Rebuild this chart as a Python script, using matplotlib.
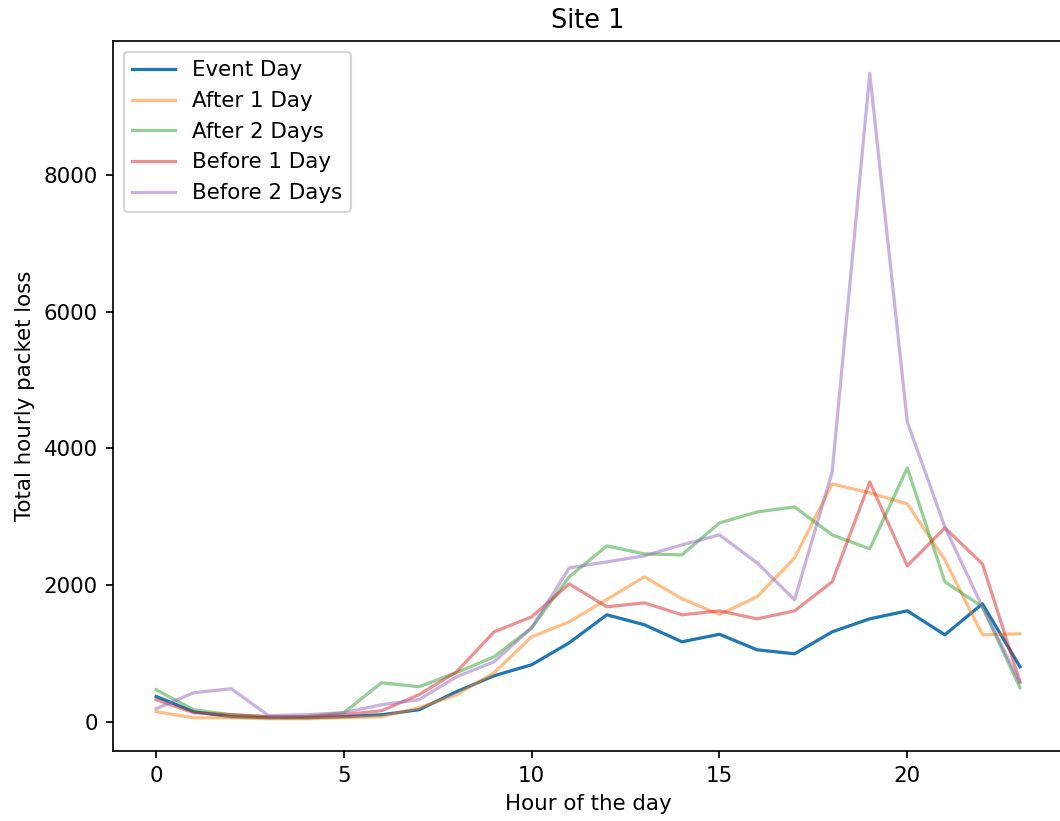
import matplotlib
matplotlib.use("Agg")
import matplotlib.pyplot as plt

hours = list(range(24))

event_day = [370, 146, 73, 58, 58, 73, 102, 175, 440, 673, 834, 1155, 1565, 1419,
             1170, 1280, 1053, 994, 1316, 1506, 1623, 1272, 1726, 804]
after_1 = [146, 58, 58, 44, 44, 58, 73, 205, 395, 717, 1243, 1462, 1790, 2121,
           1800, 1570, 1828, 2398, 3481, 3350, 3188, 2370, 1272, 1287]
after_2 = [468, 175, 102, 73, 73, 132, 570, 512, 717, 951, 1375, 2121, 2574, 2457,
           2442, 2910, 3071, 3144, 2735, 2530, 3715, 2048, 1682, 497]
before_1 = [322, 132, 102, 73, 73, 102, 160, 395, 731, 1316, 1536, 2018, 1682, 1740,
            1565, 1623, 1506, 1623, 2048, 3510, 2282, 2837, 2311, 585]
before_2 = [190, 424, 483, 88, 102, 132, 249, 322, 658, 878, 1375, 2252, 2340, 2428,
            2589, 2735, 2325, 1784, 3656, 9492, 4388, 2850, 1680, 570]

series = [
    ("Event Day", event_day, 1.0),
    ("After 1 Day", after_1, 0.5),
    ("After 2 Days", after_2, 0.5),
    ("Before 1 Day", before_1, 0.5),
    ("Before 2 Days", before_2, 0.5),
]

DPI = 154
fig, ax = plt.subplots(figsize=(1060 / DPI, 821 / DPI), dpi=DPI)

for label, vals, a in series:
    ax.plot(hours, vals, label=label, alpha=a)

ax.set_title("Site 1")
ax.set_xlabel("Hour of the day")
ax.set_ylabel("Total hourly packet loss")
ax.legend(loc="upper left")

# right spine sits just past the image edge in the original (cropped)
plt.subplots_adjust(left=0.1065, right=1.003, top=0.950, bottom=0.0853)
plt.savefig("out.png", dpi=DPI)
